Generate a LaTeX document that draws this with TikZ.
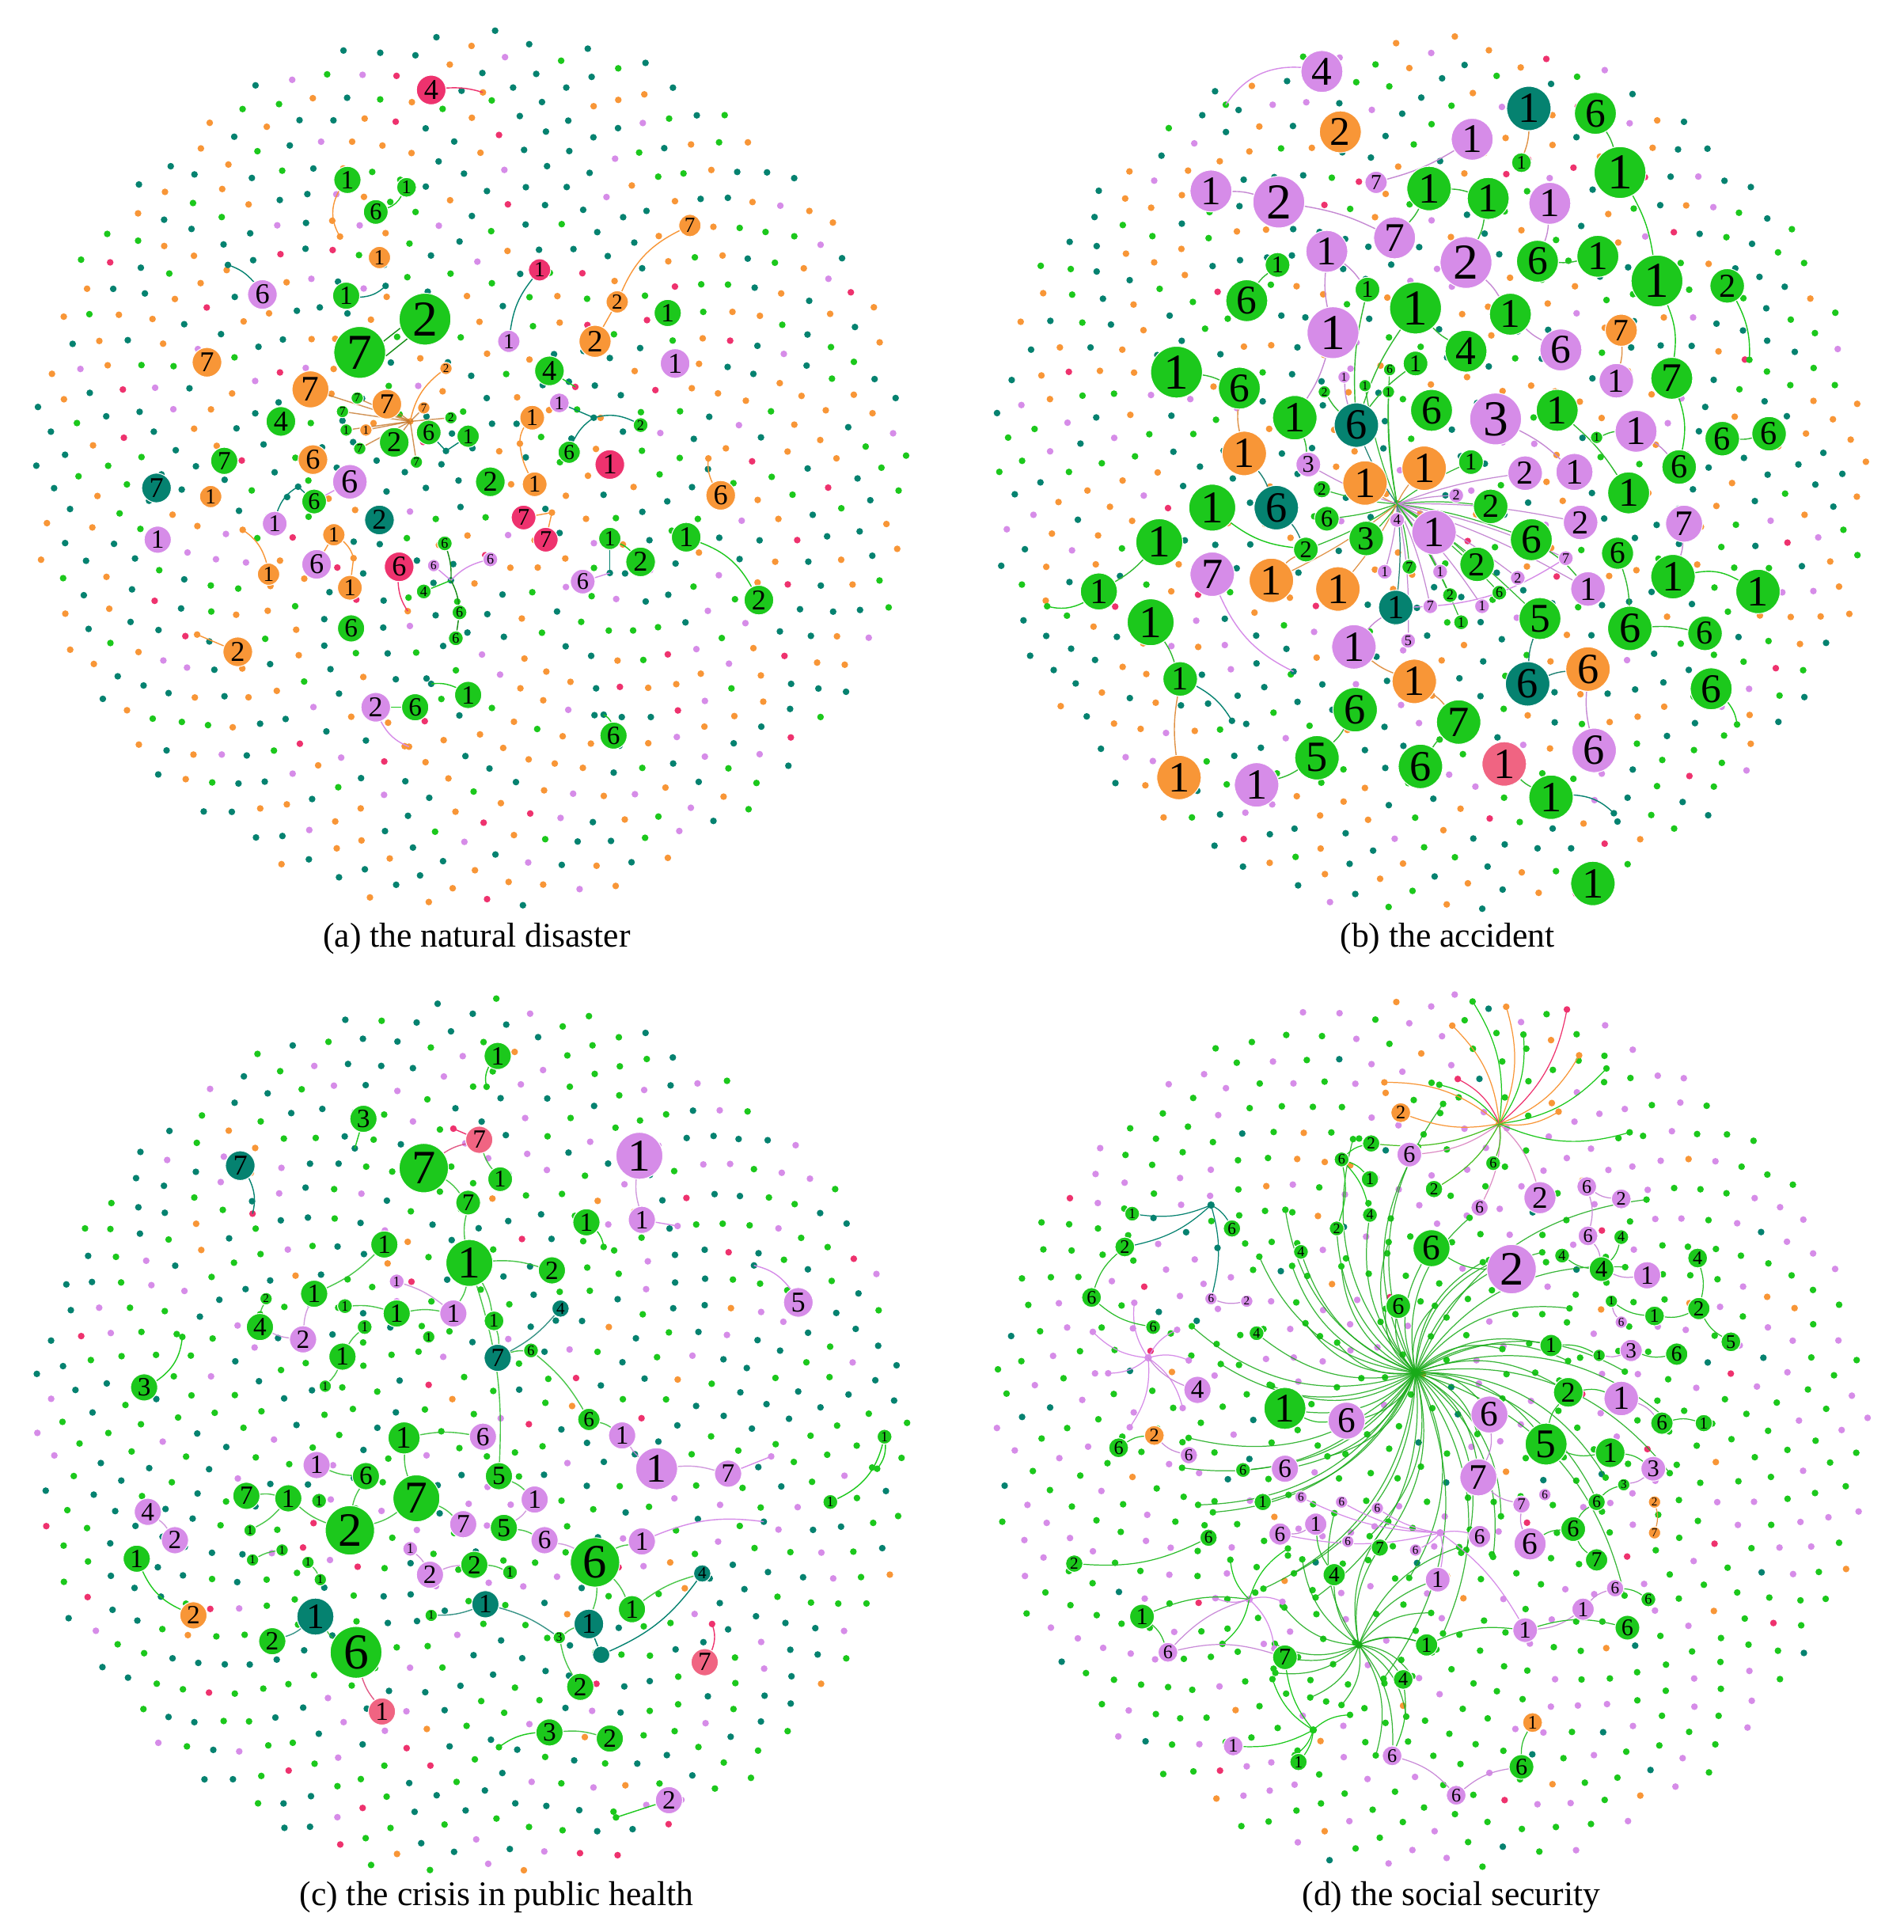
\documentclass[tikz,border=0pt]{standalone}
\usepackage{fontspec}
\setmainfont{Liberation Serif}
\usetikzlibrary{calc}
\definecolor{cgreen}{RGB}{28,200,28}
\definecolor{cteal}{RGB}{5,130,112}
\definecolor{corange}{RGB}{248,150,55}
\definecolor{cviolet}{RGB}{214,140,232}
\definecolor{cpink}{RGB}{238,50,110}
\definecolor{cpinkl}{RGB}{240,100,130}
\pgfdeclarelayer{dots}\pgfdeclarelayer{edges}
\pgfsetlayers{dots,edges,main}
\newcommand\pickA[1]{\ifnum#1<16 cteal\else\ifnum#1<27 corange\else\ifnum#1<35 cgreen\else\ifnum#1<39 cviolet\else cpink\fi\fi\fi\fi}
\newcommand\pickB[1]{\ifnum#1<17 cteal\else\ifnum#1<27 corange\else\ifnum#1<35 cgreen\else\ifnum#1<40 cviolet\else cpink\fi\fi\fi\fi}
\newcommand\pickC[1]{\ifnum#1<17 cteal\else\ifnum#1<31 cgreen\else\ifnum#1<37 cviolet\else\ifnum#1<39 corange\else cpink\fi\fi\fi\fi}
\newcommand\pickD[1]{\ifnum#1<23 cgreen\else\ifnum#1<36 cviolet\else\ifnum#1<38 corange\else\ifnum#1<40 cteal\else cpink\fi\fi\fi\fi}
\newcommand\dotfield[4]{%
  \pgfmathsetseed{#3}%
  \foreach \i in {1,...,800}{%
    \pgfmathsetmacro\drad{12.66*sqrt(\i)+4*rnd-2}%
    \pgfmathsetmacro\dang{360*mod(\i*0.381966,1)}%
    \pgfmathrandominteger{\dk}{1}{40}%
    \edef\dcol{#4{\dk}}%
    \fill[\dcol] (#1,#2) ++(\dang:\drad) circle (2.7);%
  }}
\newcommand\nd[6]{%
  \pgfmathsetmacro\ndsz{0.8858*#4}%
  \pgfmathsetmacro\ndfs{0.86*#4}%
  \node[nd, fill=#5, minimum size=\ndsz pt, font=\fontsize{\ndfs pt}{\ndfs pt}\selectfont] (#1) at (#2,#3) {#6};}
\newcommand\fd[4]{\coordinate (#1) at (#2,#3); \fill[#4] (#1) circle (2.7);}
\begin{document}
\begin{tikzpicture}[x=0.015566cm,y=-0.015566cm,
  nd/.style={circle,inner sep=0pt,text=black,draw=white,line width=0.3pt},
  ed/.style={line width=0.4pt},
  hed/.style={line width=0.35pt,cgreen!85!black,opacity=0.85},
  captext/.style={font=\fontsize{12.4pt}{15pt}\selectfont,inner sep=0pt}]
\useasboundingbox (0,0) rectangle (1545,1568);
\begin{pgfonlayer}{dots}
\fill[white] (0,0) rectangle (1545,1568);
\dotfield{382}{381}{11}{\pickA}
\dotfield{1161}{386}{23}{\pickB}
\dotfield{383}{1166}{37}{\pickC}
\dotfield{1161}{1162}{41}{\pickD}
\end{pgfonlayer}

% ---------- captions
\node[captext] (capa) at (387,762) {(a) the natural disaster};
\node[captext] (capb) at (1175,762) {(b) the accident};
\node[captext] (capc) at (403,1540) {(c) the crisis in public health};
\node[captext] (capd) at (1178,1540) {(d) the social security};

% ---------- panel (a)
\nd{a1}{350}{73}{12}{cpink}{4}
\nd{a2}{282}{146}{11}{cgreen}{1}
\nd{a3}{330}{152}{8}{cgreen}{1}
\nd{a4}{305}{172}{10}{cgreen}{6}
\nd{a5}{308}{209}{9}{corange}{1}
\nd{a6}{560}{183}{9}{corange}{7}
\nd{a7}{438}{219}{9}{cpink}{1}
\nd{a8}{213}{239}{12}{cviolet}{6}
\nd{a9}{281}{240}{11}{cgreen}{1}
\nd{a10}{501}{245}{9}{corange}{2}
\nd{a11}{345}{259}{21}{cgreen}{2}
\nd{a12}{292}{286}{21}{cgreen}{7}
\nd{a13}{413}{277}{9}{cviolet}{1}
\nd{a14}{483}{277}{13}{corange}{2}
\nd{a15}{542}{254}{11}{cgreen}{1}
\nd{a16}{548}{295}{12}{cviolet}{1}
\nd{a17}{168}{294}{12}{corange}{7}
\nd{a18}{252}{316}{15}{corange}{7}
\nd{a19}{446}{301}{12}{cgreen}{4}
\nd{a20}{362}{299}{5}{corange}{2}
\nd{a21}{290}{323}{5}{cgreen}{7}
\nd{a22}{314}{328}{12}{corange}{7}
\nd{a23}{344}{331}{5}{corange}{7}
\nd{a24}{278}{334}{5}{cgreen}{7}
\nd{a25}{366}{339}{5}{cgreen}{2}
\nd{a26}{228}{342}{12}{cgreen}{4}
\nd{a27}{454}{327}{8}{cviolet}{1}
\nd{a28}{432}{339}{10}{corange}{1}
\nd{a29}{520}{345}{6}{cgreen}{2}
\nd{a30}{281}{349}{5}{cgreen}{1}
\nd{a31}{297}{349}{5}{corange}{1}
\nd{a32}{348}{351}{10}{cgreen}{6}
\nd{a33}{380}{354}{9}{cgreen}{1}
\nd{a34}{320}{359}{12}{cgreen}{2}
\nd{a35}{182}{374}{11}{cgreen}{7}
\nd{a36}{254}{373}{12}{corange}{6}
\nd{a37}{462}{367}{9}{cgreen}{6}
\nd{a38}{495}{377}{12}{cpink}{1}
\nd{a39}{292}{364}{5}{cgreen}{7}
\nd{a40}{338}{375}{5}{cgreen}{7}
\nd{a41}{127}{396}{12}{cteal}{7}
\nd{a42}{171}{403}{9}{corange}{1}
\nd{a43}{284}{391}{14}{cviolet}{6}
\nd{a44}{398}{391}{12}{cgreen}{2}
\nd{a45}{434}{393}{10}{corange}{1}
\nd{a46}{585}{402}{12}{corange}{6}
\nd{a47}{255}{407}{10}{cgreen}{6}
\nd{a48}{308}{422}{12}{cteal}{2}
\nd{a49}{223}{425}{10}{cviolet}{1}
\nd{a50}{128}{438}{11}{cviolet}{1}
\nd{a51}{271}{434}{9}{corange}{1}
\nd{a52}{425}{420}{10}{cpink}{7}
\nd{a53}{443}{438}{10}{cpink}{7}
\nd{a54}{495}{437}{9}{cgreen}{1}
\nd{a55}{557}{436}{12}{cgreen}{1}
\nd{a56}{520}{456}{12}{cgreen}{2}
\nd{a57}{257}{458}{12}{cviolet}{6}
\nd{a58}{218}{466}{9}{corange}{1}
\nd{a59}{284}{477}{10}{corange}{1}
\nd{a60}{324}{460}{12}{cpink}{6}
\nd{a61}{361}{441}{6}{cgreen}{6}
\nd{a62}{352}{459}{5}{cviolet}{6}
\nd{a63}{398}{454}{6}{cviolet}{6}
\nd{a64}{344}{480}{6}{cgreen}{4}
\nd{a65}{373}{497}{6}{cgreen}{6}
\nd{a66}{473}{472}{10}{cviolet}{6}
\nd{a67}{285}{510}{11}{cgreen}{6}
\nd{a68}{370}{518}{6}{cgreen}{6}
\nd{a69}{616}{487}{12}{cgreen}{2}
\nd{a70}{193}{529}{12}{corange}{2}
\nd{a71}{380}{564}{11}{cgreen}{1}
\nd{a72}{337}{574}{11}{cgreen}{6}
\nd{a73}{305}{574}{12}{cviolet}{2}
\nd{a74}{498}{597}{11}{cgreen}{6}

% ---------- panel (b)
\nd{b1}{1073}{58}{17}{cviolet}{4}
\nd{b2}{1088}{107}{17}{corange}{2}
\nd{b3}{1241}{88}{18}{cteal}{1}
\nd{b4}{1295}{92}{17}{cgreen}{6}
\nd{b5}{1195}{113}{17}{cviolet}{1}
\nd{b6}{1235}{132}{8}{cgreen}{1}
\nd{b7}{1315}{140}{21}{cgreen}{1}
\nd{b8}{983}{155}{17}{cviolet}{1}
\nd{b9}{1038}{164}{21}{cviolet}{2}
\nd{b10}{1117}{148}{9}{cviolet}{7}
\nd{b11}{1160}{153}{18}{cgreen}{1}
\nd{b12}{1208}{161}{17}{cgreen}{1}
\nd{b13}{1258}{165}{17}{cviolet}{1}
\nd{b14}{1077}{204}{17}{cviolet}{1}
\nd{b15}{1132}{193}{17}{cviolet}{7}
\nd{b16}{1190}{213}{21}{cviolet}{2}
\nd{b17}{1248}{212}{17}{cgreen}{6}
\nd{b18}{1297}{208}{17}{cgreen}{1}
\nd{b19}{1345}{228}{21}{cgreen}{1}
\nd{b20}{1402}{232}{14}{cgreen}{2}
\nd{b21}{1037}{215}{10}{cgreen}{1}
\nd{b22}{1110}{235}{10}{cgreen}{1}
\nd{b23}{1012}{244}{17}{cgreen}{6}
\nd{b24}{1082}{270}{21}{cviolet}{1}
\nd{b25}{1149}{250}{21}{cgreen}{1}
\nd{b26}{1226}{255}{17}{cgreen}{1}
\nd{b27}{1190}{285}{17}{cgreen}{4}
\nd{b28}{1267}{284}{17}{cviolet}{6}
\nd{b29}{1316}{268}{13}{corange}{7}
\nd{b30}{955}{302}{21}{cgreen}{1}
\nd{b31}{1006}{315}{17}{cgreen}{6}
\nd{b32}{1149}{295}{10}{cgreen}{1}
\nd{b33}{1312}{309}{14}{cviolet}{1}
\nd{b34}{1357}{307}{17}{cgreen}{7}
\nd{b35}{1051}{339}{18}{cgreen}{1}
\nd{b36}{1101}{345}{18}{cteal}{6}
\nd{b37}{1162}{333}{17}{cgreen}{6}
\nd{b38}{1214}{340}{21}{cviolet}{3}
\nd{b39}{1264}{333}{17}{cgreen}{1}
\nd{b40}{1328}{350}{17}{cviolet}{1}
\nd{b41}{1398}{356}{14}{cgreen}{6}
\nd{b42}{1436}{352}{14}{cgreen}{6}
\nd{b43}{1010}{368}{18}{corange}{1}
\nd{b44}{1062}{377}{10}{cviolet}{3}
\nd{b45}{1108}{392}{18}{corange}{1}
\nd{b46}{1156}{380}{18}{corange}{1}
\nd{b47}{1194}{375}{10}{cgreen}{1}
\nd{b48}{1238}{384}{14}{cviolet}{2}
\nd{b49}{1278}{383}{15}{cviolet}{1}
\nd{b50}{1363}{379}{14}{cgreen}{6}
\nd{b51}{984}{412}{19}{cgreen}{1}
\nd{b52}{1036}{412}{18}{cteal}{6}
\nd{b53}{1210}{411}{14}{cgreen}{2}
\nd{b54}{1322}{400}{17}{cgreen}{1}
\nd{b55}{1283}{424}{14}{cviolet}{2}
\nd{b56}{1367}{425}{15}{cviolet}{7}
\nd{b57}{941}{440}{19}{cgreen}{1}
\nd{b58}{1077}{421}{10}{cgreen}{6}
\nd{b59}{1109}{437}{14}{cgreen}{3}
\nd{b60}{1164}{432}{18}{cviolet}{1}
\nd{b61}{1243}{438}{17}{cgreen}{6}
\nd{b62}{1060}{446}{10}{cgreen}{2}
\nd{b63}{1313}{449}{13}{cgreen}{6}
\nd{b64}{984}{466}{18}{cviolet}{7}
\nd{b65}{1032}{471}{18}{corange}{1}
\nd{b66}{1086}{478}{18}{corange}{1}
\nd{b67}{1199}{458}{14}{cgreen}{2}
\nd{b68}{1358}{468}{18}{cgreen}{1}
\nd{b69}{1289}{478}{14}{cviolet}{1}
\nd{b70}{1427}{480}{18}{cgreen}{1}
\nd{b71}{892}{480}{15}{cgreen}{1}
\nd{b72}{1133}{493}{14}{cteal}{1}
\nd{b73}{934}{505}{19}{cgreen}{1}
\nd{b74}{1250}{502}{17}{cgreen}{5}
\nd{b75}{1323}{510}{18}{cgreen}{6}
\nd{b76}{1384}{514}{14}{cgreen}{6}
\nd{b77}{1099}{525}{18}{cviolet}{1}
\nd{b78}{958}{551}{14}{cgreen}{1}
\nd{b79}{1148}{553}{18}{corange}{1}
\nd{b80}{1240}{555}{18}{cteal}{6}
\nd{b81}{1289}{543}{18}{corange}{6}
\nd{b82}{1389}{559}{17}{cgreen}{6}
\nd{b83}{1100}{576}{18}{cgreen}{6}
\nd{b84}{1184}{586}{18}{cgreen}{7}
\nd{b85}{1069}{615}{18}{cgreen}{5}
\nd{b86}{1153}{622}{18}{cgreen}{6}
\nd{b87}{1221}{620}{18}{cpinkl}{1}
\nd{b88}{1294}{609}{18}{cviolet}{6}
\nd{b89}{957}{631}{18}{corange}{1}
\nd{b90}{1020}{637}{18}{cviolet}{1}
\nd{b91}{1259}{647}{18}{cgreen}{1}
\nd{b92}{1293}{717}{18}{cgreen}{1}
\nd{b93}{1073}{397}{7}{cgreen}{2}
\nd{b94}{1134}{422}{6}{cviolet}{4}
\nd{b95}{1182}{402}{6}{cviolet}{2}
\nd{b96}{1271}{453}{6}{cviolet}{7}
\nd{b97}{1124}{464}{6}{cviolet}{1}
\nd{b98}{1144}{460}{6}{cgreen}{7}
\nd{b99}{1169}{464}{6}{cviolet}{1}
\nd{b100}{1177}{483}{6}{cgreen}{2}
\nd{b101}{1217}{481}{6}{cgreen}{6}
\nd{b102}{1232}{469}{6}{cviolet}{2}
\nd{b103}{1161}{492}{6}{cviolet}{7}
\nd{b104}{1203}{492}{6}{cviolet}{1}
\nd{b105}{1186}{505}{6}{cgreen}{1}
\nd{b106}{1143}{520}{6}{cviolet}{5}
\nd{b107}{1091}{306}{5}{cviolet}{1}
\nd{b108}{1108}{313}{5}{cgreen}{1}
\nd{b109}{1127}{318}{5}{cgreen}{1}
\nd{b110}{1075}{318}{5}{cgreen}{2}
\nd{b111}{1128}{300}{5}{cgreen}{6}
\nd{b112}{1296}{355}{5}{cgreen}{1}

% ---------- panel (c)
\nd{c1}{404}{857}{11}{cgreen}{1}
\nd{c2}{295}{908}{11}{cgreen}{3}
\nd{c3}{389}{925}{11}{cpinkl}{7}
\nd{c4}{519}{938}{19}{cviolet}{1}
\nd{c5}{195}{946}{12}{cteal}{7}
\nd{c6}{344}{948}{20}{cgreen}{7}
\nd{c7}{406}{957}{10}{cgreen}{1}
\nd{c8}{380}{976}{10}{cgreen}{7}
\nd{c9}{521}{990}{11}{cviolet}{1}
\nd{c10}{476}{992}{11}{cgreen}{1}
\nd{c11}{312}{1010}{11}{cgreen}{1}
\nd{c12}{381}{1025}{19}{cgreen}{1}
\nd{c13}{448}{1031}{11}{cgreen}{2}
\nd{c14}{322}{1040}{6}{cviolet}{1}
\nd{c15}{255}{1050}{11}{cgreen}{1}
\nd{c16}{648}{1057}{12}{cviolet}{5}
\nd{c17}{455}{1062}{7}{cteal}{4}
\nd{c18}{216}{1054}{5}{cgreen}{2}
\nd{c19}{280}{1060}{6}{cgreen}{1}
\nd{c20}{211}{1077}{11}{cgreen}{4}
\nd{c21}{296}{1077}{6}{cgreen}{1}
\nd{c22}{322}{1066}{11}{cgreen}{1}
\nd{c23}{368}{1066}{11}{cviolet}{1}
\nd{c24}{401}{1072}{8}{cgreen}{1}
\nd{c25}{246}{1087}{11}{cviolet}{2}
\nd{c26}{278}{1101}{11}{cgreen}{1}
\nd{c27}{404}{1102}{11}{cteal}{7}
\nd{c28}{431}{1096}{6}{cgreen}{6}
\nd{c29}{348}{1085}{5}{cgreen}{1}
\nd{c30}{117}{1126}{11}{cgreen}{3}
\nd{c31}{264}{1125}{5}{cgreen}{1}
\nd{c32}{478}{1152}{9}{cgreen}{6}
\nd{c33}{505}{1165}{11}{cviolet}{1}
\nd{c34}{328}{1167}{13}{cgreen}{1}
\nd{c35}{392}{1166}{11}{cviolet}{6}
\nd{c36}{533}{1192}{17}{cviolet}{1}
\nd{c37}{591}{1196}{11}{cviolet}{7}
\nd{c38}{718}{1166}{6}{cgreen}{1}
\nd{c39}{257}{1189}{11}{cviolet}{1}
\nd{c40}{297}{1198}{11}{cgreen}{6}
\nd{c41}{405}{1198}{11}{cgreen}{5}
\nd{c42}{338}{1216}{19}{cgreen}{7}
\nd{c43}{200}{1214}{11}{cgreen}{7}
\nd{c44}{234}{1216}{11}{cgreen}{1}
\nd{c45}{259}{1218}{6}{cgreen}{1}
\nd{c46}{434}{1217}{11}{cviolet}{1}
\nd{c47}{674}{1219}{6}{cgreen}{1}
\nd{c48}{120}{1227}{11}{cviolet}{4}
\nd{c49}{284}{1242}{20}{cgreen}{2}
\nd{c50}{376}{1237}{11}{cviolet}{7}
\nd{c51}{409}{1240}{11}{cgreen}{5}
\nd{c52}{442}{1250}{11}{cviolet}{6}
\nd{c53}{483}{1268}{20}{cgreen}{6}
\nd{c54}{521}{1251}{11}{cviolet}{1}
\nd{c55}{142}{1250}{11}{cviolet}{2}
\nd{c56}{203}{1242}{5}{cgreen}{1}
\nd{c57}{229}{1258}{5}{cgreen}{1}
\nd{c58}{205}{1266}{5}{cgreen}{1}
\nd{c59}{250}{1268}{5}{cgreen}{1}
\nd{c60}{333}{1257}{6}{cviolet}{1}
\nd{c61}{111}{1265}{11}{cgreen}{1}
\nd{c62}{349}{1278}{11}{cviolet}{2}
\nd{c63}{385}{1270}{11}{cgreen}{2}
\nd{c64}{414}{1276}{6}{cgreen}{1}
\nd{c65}{570}{1277}{7}{cteal}{4}
\nd{c66}{260}{1282}{5}{cgreen}{1}
\nd{c67}{157}{1311}{11}{corange}{2}
\nd{c68}{256}{1312}{15}{cteal}{1}
\nd{c69}{394}{1302}{11}{cteal}{1}
\nd{c70}{478}{1318}{12}{cteal}{1}
\nd{c71}{513}{1306}{11}{cgreen}{1}
\nd{c72}{289}{1341}{21}{cgreen}{6}
\nd{c73}{221}{1332}{11}{cgreen}{2}
\nd{c74}{350}{1311}{5}{cgreen}{1}
\nd{c75}{454}{1329}{5}{cgreen}{3}
\nd{c76}{488}{1343}{7}{cteal}{}
\nd{c77}{572}{1349}{11}{cpinkl}{7}
\nd{c78}{471}{1369}{11}{cgreen}{2}
\nd{c79}{310}{1389}{11}{cpinkl}{1}
\nd{c80}{446}{1406}{11}{cgreen}{3}
\nd{c81}{495}{1411}{11}{cgreen}{2}
\nd{c82}{543}{1461}{11}{cviolet}{2}

% ---------- panel (d)
\nd{d1}{1137}{903}{8}{corange}{2}
\nd{d2}{1144}{937}{10}{cviolet}{6}
\nd{d3}{1113}{928}{7}{cgreen}{2}
\nd{d4}{1112}{957}{7}{cgreen}{1}
\nd{d5}{1164}{965}{7}{cgreen}{2}
\nd{d6}{1201}{980}{7}{cviolet}{6}
\nd{d7}{1250}{972}{13}{cviolet}{2}
\nd{d8}{1288}{963}{8}{cviolet}{6}
\nd{d9}{1316}{973}{8}{cviolet}{2}
\nd{d10}{1000}{997}{7}{cgreen}{6}
\nd{d11}{913}{1012}{8}{cgreen}{2}
\nd{d12}{1085}{997}{6}{cgreen}{2}
\nd{d13}{886}{1053}{8}{cgreen}{6}
\nd{d14}{1162}{1013}{15}{cgreen}{6}
\nd{d15}{1227}{1030}{20}{cviolet}{2}
\nd{d16}{1135}{1060}{10}{cgreen}{6}
\nd{d17}{1289}{1003}{8}{cviolet}{6}
\nd{d18}{1316}{1004}{6}{cgreen}{4}
\nd{d19}{1268}{1019}{6}{cgreen}{4}
\nd{d20}{1056}{1016}{6}{cgreen}{4}
\nd{d21}{1300}{1030}{10}{cgreen}{4}
\nd{d22}{1337}{1035}{11}{cviolet}{1}
\nd{d23}{1378}{1021}{8}{cgreen}{4}
\nd{d24}{1379}{1062}{9}{cgreen}{2}
\nd{d25}{1343}{1068}{8}{cgreen}{1}
\nd{d26}{1405}{1089}{8}{cgreen}{5}
\nd{d27}{1308}{1056}{5}{cgreen}{1}
\nd{d28}{1316}{1073}{5}{cviolet}{6}
\nd{d29}{1259}{1092}{9}{cgreen}{1}
\nd{d30}{1324}{1096}{9}{cviolet}{3}
\nd{d31}{1298}{1100}{5}{cgreen}{1}
\nd{d32}{936}{1077}{6}{cgreen}{6}
\nd{d33}{1020}{1082}{6}{cgreen}{4}
\nd{d34}{972}{1128}{11}{cviolet}{4}
\nd{d35}{1361}{1099}{9}{cgreen}{6}
\nd{d36}{1043}{1143}{17}{cgreen}{1}
\nd{d37}{1093}{1153}{15}{cviolet}{6}
\nd{d38}{1209}{1148}{15}{cviolet}{6}
\nd{d39}{1255}{1172}{17}{cgreen}{5}
\nd{d40}{1307}{1179}{12}{cgreen}{1}
\nd{d41}{1200}{1199}{15}{cviolet}{7}
\nd{d42}{1273}{1130}{12}{cgreen}{2}
\nd{d43}{1316}{1135}{14}{cviolet}{1}
\nd{d44}{1349}{1155}{9}{cgreen}{6}
\nd{d45}{1383}{1155}{7}{cgreen}{1}
\nd{d46}{937}{1165}{8}{corange}{2}
\nd{d47}{965}{1181}{7}{cviolet}{6}
\nd{d48}{908}{1175}{8}{cgreen}{6}
\nd{d49}{1043}{1192}{11}{cviolet}{6}
\nd{d50}{1342}{1192}{10}{cviolet}{3}
\nd{d51}{1068}{1237}{9}{cviolet}{1}
\nd{d52}{1039}{1245}{9}{cviolet}{6}
\nd{d53}{1120}{1256}{7}{cgreen}{7}
\nd{d54}{1201}{1247}{9}{cviolet}{6}
\nd{d55}{1242}{1253}{13}{cviolet}{6}
\nd{d56}{1277}{1241}{10}{cgreen}{6}
\nd{d57}{1296}{1266}{9}{cgreen}{7}
\nd{d58}{1167}{1282}{10}{cviolet}{1}
\nd{d59}{1083}{1278}{9}{cgreen}{4}
\nd{d60}{1285}{1306}{9}{cviolet}{1}
\nd{d61}{1296}{1219}{7}{cgreen}{6}
\nd{d62}{1318}{1205}{5}{cgreen}{3}
\nd{d63}{1343}{1219}{5}{corange}{2}
\nd{d64}{1343}{1244}{5}{corange}{7}
\nd{d65}{1235}{1221}{7}{cviolet}{7}
\nd{d66}{1254}{1213}{5}{cviolet}{6}
\nd{d67}{1089}{1219}{5}{cviolet}{6}
\nd{d68}{1118}{1224}{5}{cviolet}{6}
\nd{d69}{1056}{1215}{5}{cviolet}{6}
\nd{d70}{1094}{1251}{5}{cviolet}{6}
\nd{d71}{1149}{1258}{5}{cviolet}{6}
\nd{d72}{1311}{1289}{7}{cviolet}{6}
\nd{d73}{1338}{1298}{6}{cgreen}{6}
\nd{d74}{872}{1269}{7}{cgreen}{2}
\nd{d75}{981}{1248}{7}{cgreen}{6}
\nd{d76}{927}{1312}{10}{cgreen}{1}
\nd{d77}{948}{1341}{8}{cviolet}{6}
\nd{d78}{1043}{1345}{10}{cgreen}{7}
\nd{d79}{1158}{1335}{9}{cgreen}{1}
\nd{d80}{1139}{1363}{8}{cgreen}{4}
\nd{d81}{1238}{1323}{10}{cviolet}{1}
\nd{d82}{1321}{1321}{10}{cgreen}{6}
\nd{d83}{1001}{1417}{8}{cviolet}{1}
\nd{d84}{1054}{1430}{7}{cgreen}{1}
\nd{d85}{1130}{1425}{8}{cviolet}{6}
\nd{d86}{1235}{1434}{10}{cgreen}{6}
\nd{d87}{1182}{1457}{8}{cviolet}{6}
\nd{d88}{1244}{1398}{8}{corange}{1}
\nd{d89}{1009}{1193}{6}{cgreen}{6}
\nd{d90}{1025}{1219}{7}{cgreen}{1}
\nd{d91}{1089}{941}{6}{cgreen}{6}
\nd{d92}{1212}{944}{6}{cgreen}{6}
\nd{d93}{983}{1054}{5}{cviolet}{6}
\nd{d94}{1012}{1056}{5}{cviolet}{2}
\nd{d95}{919}{985}{6}{cgreen}{1}
\nd{d96}{1112}{986}{6}{cgreen}{4}

% ================= edges =================
\begin{pgfonlayer}{edges}
% ---- (a)
\fd{fa1}{313}{232}{cteal}
\fd{fa2}{276}{192}{corange}
\fd{fa3}{333}{342}{corange}
\fd{fa4}{362}{366}{cteal}
\fd{fa5}{482}{339}{cteal}
\fd{fa6}{422}{360}{corange}
\fd{fa7}{242}{395}{cteal}
\fd{fa8}{287}{453}{corange}
\fd{fa9}{197}{430}{corange}
\fd{fa10}{331}{496}{corange}
\fd{fa11}{366}{471}{cteal}
\fd{fa12}{448}{416}{corange}
\fd{fa13}{495}{465}{cteal}
\fd{fa14}{575}{372}{corange}
\fd{fa15}{160}{515}{corange}
\fd{fa16}{392}{75}{corange}
\fd{fa17}{185}{215}{cteal}
\fd{fa18}{490}{580}{cteal}
\fd{fa19}{350}{555}{cteal}
\fd{fa20}{332}{606}{corange}
\fd{fa21}{467}{314}{cpink}
\draw[ed,cgreen!70!black] (a12.25) -- (a11.200) (a12.-8) -- (a11.228);
\draw[ed,cteal] (a9) to[bend right=20] (fa1);
\draw[ed,corange] (a2) to[bend right=30] (fa2);
\draw[ed,cteal] (a7) to[bend right=15] (a13);
\draw[ed,corange] (a10) -- (a14);
\draw[ed,corange] (a6) to[bend right=20] (a10);
\foreach \n in {a18,a22,a23,a31,a30,a24,a21,a34,a39,a25,a40}
  \draw[ed,corange!80!black,opacity=0.8] (fa3) -- (\n);
\draw[ed,corange] (fa3) to[bend left=20] (a20);
\draw[ed,cteal] (a32) -- (fa4) -- (a33);
\draw[ed,cteal] (a27) -- (fa5);
\draw[ed,cteal] (fa5) to[bend left=20] (a29);
\draw[ed,cteal] (fa5) to[bend right=15] (a37);
\draw[ed,corange] (a28) to[bend right=15] (fa6);
\draw[ed,corange] (fa6) to[bend right=10] (a45);
\draw[ed,cviolet] (a43) -- (a47);
\draw[ed,cteal] (a49) to[bend left=20] (fa7);
\draw[ed,cteal] (fa7) -- (a47);
\draw[ed,corange] (a51) -- (a57);
\draw[ed,corange] (a51) to[bend left=15] (fa8);
\draw[ed,corange] (fa8) -- (a59);
\draw[ed,corange] (a58) to[bend right=20] (fa9);
\draw[ed,cpink] (a60) to[bend right=15] (fa10);
\draw[ed,cgreen!70!black] (a61) to[bend left=10] (fa11);
\draw[ed,cgreen!70!black] (fa11) to[bend left=10] (a65);
\draw[ed,cgreen!70!black] (a65) -- (a68);
\draw[ed,cviolet] (a62) -- (fa11);
\draw[ed,cviolet] (a63) to[bend right=15] (fa11);
\draw[ed,cgreen] (a64) -- (fa11);
\draw[ed,corange] (a52) -- (fa12) -- (a53);
\draw[ed,cviolet] (a66) -- (fa13);
\draw[ed,cteal] (fa13) -- (a54);
\draw[ed,cgreen] (a54) to[bend left=10] (a56);
\draw[ed,cgreen] (a55) to[bend left=20] (a69);
\draw[ed,corange] (a46) to[bend left=15] (fa14);
\draw[ed,corange] (a70) -- (fa15);
\draw[ed,cpink] (a1) to[bend left=10] (fa16);
\draw[ed,cteal] (a8) to[bend right=15] (fa17);
\draw[ed,cgreen] (a74) to[bend right=15] (fa18);
\draw[ed,cgreen] (a71) to[bend right=15] (fa19);
\draw[ed,cviolet] (a73) to[bend right=20] (fa20);
\draw[ed,cgreen] (a19) -- (fa21);
\draw[ed,cgreen] (a3) to[bend left=20] (a4);
\draw[ed,cgreen] (a73) -- (a72);

% ---- (b)
\coordinate (hb) at (1134,409);
\fill[cgreen!70!black] (hb) circle (3);
\foreach \n/\cl in {b45/corange,b46/corange,b36/cteal,b60/cviolet,b94/cviolet,b97/cviolet,b98/cgreen,b99/cviolet,b100/cgreen,b101/cgreen,b102/cviolet,b103/cviolet,b104/cviolet,b105/cgreen,b106/cviolet,b59/cgreen,b58/cgreen,b62/cgreen,b53/cgreen,b95/cviolet,b72/cteal,b67/cgreen,b61/cgreen,b65/corange,b66/corange,b55/cviolet,b69/cviolet,b96/cviolet,b93/cgreen,b47/cgreen,b48/cviolet,b44/cviolet,b108/cgreen,b109/cgreen,b111/cgreen,b74/cgreen}
  \draw[ed,\cl!80!gray,line width=0.35pt] (hb) to[bend left=6] (\n);
\fd{fb1}{995}{85}{cgreen}
\fd{fb2}{1050}{545}{cteal}
\fd{fb3}{850}{492}{cgreen}
\fd{fb4}{1420}{292}{cgreen}
\fd{fb5}{1410}{588}{cgreen}
\fd{fb6}{1310}{660}{cteal}
\fd{fb7}{1000}{585}{cteal}
\foreach \u/\v/\cl in {b36/b22/cgreen,b36/b25/cgreen,b36/b32/cgreen,b36/b107/cviolet,b36/b110/cgreen,b35/b44/cgreen,b43/b52/cteal,b43/b31/corange,b57/b71/cgreen,b73/b78/cgreen,b80/b74/cteal,b80/b81/cteal,b79/b84/corange,b79/b77/corange,b77/b72/cviolet,b83/b85/cgreen,b86/b84/cgreen,b3/b6/corange,b4/b7/cgreen,b5/b10/cviolet,b23/b21/cgreen,b24/b14/cviolet,b30/b31/cgreen,b8/b9/cviolet,b9/b15/cviolet,b11/b12/cgreen,b12/b16/cgreen,b13/b17/cviolet,b16/b26/cviolet,b18/b17/cgreen,b29/b33/corange,b28/b26/cviolet,b27/b25/cgreen,b38/b49/cviolet,b39/b54/cgreen,b40/b50/cviolet,b56/b68/cviolet,b63/b75/cgreen,b75/b76/cgreen,b42/b41/cgreen,b24/b35/cviolet,b14/b22/cviolet,b11/b15/cgreen,b52/b62/cteal,b65/b62/corange,b88/b81/cviolet,b91/b87/cgreen,b85/b90/cgreen,b89/b78/corange,b61/b69/cgreen,b112/b40/cgreen}
  \draw[ed,\cl!80!gray] (\u) to[bend left=8] (\v);
\draw[ed,cviolet] (b1) to[bend right=30] (fb1);
\draw[ed,cviolet] (b64) to[bend right=20] (fb2);
\draw[ed,cgreen] (b71) to[bend left=20] (fb3);
\draw[ed,cgreen] (b20) to[bend left=15] (fb4);
\draw[ed,cgreen] (b7) to[bend left=10] (b19);
\draw[ed,cgreen] (b19) to[bend left=15] (b34);
\draw[ed,cgreen] (b34) to[bend left=15] (b50);
\draw[ed,cgreen] (b82) to[bend left=15] (fb5);
\draw[ed,cteal] (b91) to[bend left=20] (fb6);
\draw[ed,cteal] (b78) to[bend left=15] (fb7);
\draw[ed,cgreen] (b68) to[bend left=20] (b70);
\draw[ed,cviolet] (b72) to[bend right=15] (b96);
\draw[ed,cgreen] (b51) to[bend right=15] (b62);

% ---- (c)
\fd{fc1}{395}{882}{cgreen}
\fd{fc2}{368}{916}{cpink}
\fd{fc3}{205}{985}{cpink}
\fd{fc4}{550}{995}{cviolet}
\fd{fc5}{490}{1012}{cgreen}
\fd{fc6}{612}{1027}{cteal}
\fd{fc7}{148}{1085}{cgreen}
\fd{fc8}{712}{1192}{cgreen}
\fd{fc9}{626}{1182}{cviolet}
\fd{fc11}{578}{1318}{cpink}
\fd{fc12}{405}{1418}{cgreen}
\fd{fc13}{500}{1475}{cgreen}
\fd{fc14}{288}{932}{cteal}
\fd{fc15}{620}{1235}{cteal}
\draw[ed,cgreen] (c1) to[bend right=20] (fc1);
\draw[ed,cpink] (c3) -- (fc2);
\draw[ed,cteal] (c5) to[bend left=20] (fc3);
\draw[ed,cviolet] (c9) -- (fc4);
\draw[ed,cgreen] (c10) to[bend left=15] (fc5);
\draw[ed,cviolet] (c16) to[bend right=20] (fc6);
\draw[ed,cgreen] (c30) to[bend right=25] (fc7);
\draw[ed,cgreen] (c38) to[bend left=20] (fc8);
\draw[ed,cgreen] (c47) to[bend right=25] (c38);
\draw[ed,cviolet] (c37) -- (fc9);
\draw[ed,cgreen] (c61) to[bend right=20] (c67);
\draw[ed,cteal] (c65) to[bend left=15] (c76);
\draw[ed,cteal] (c76) -- (c70);
\draw[ed,cpink] (c77) to[bend right=20] (fc11);
\draw[ed,cgreen] (c80) to[bend right=15] (fc12);
\draw[ed,cgreen] (c82) -- (fc13);
\draw[ed,cgreen] (c2) -- (fc14);
\draw[ed,cviolet] (c54) to[bend left=15] (fc15);
\foreach \u/\v/\cl in {c12/c8/cgreen,c12/c13/cgreen,c17/c27/cteal,c27/c28/cgreen,c28/c32/cgreen,c32/c33/cgreen,c48/c55/cviolet,c79/c72/cpink,c72/c68/cgreen,c68/c73/cteal,c53/c70/cgreen,c53/c71/cgreen,c71/c65/cgreen,c42/c49/cgreen,c42/c34/cgreen,c34/c35/cgreen,c42/c50/cgreen,c49/c40/cgreen,c49/c44/cgreen,c40/c39/cgreen,c43/c44/cgreen,c44/c56/cgreen,c25/c20/cviolet,c25/c15/cviolet,c26/c21/cgreen,c22/c23/cgreen,c12/c23/cgreen,c12/c24/cgreen,c24/c27/cgreen,c11/c15/cgreen,c6/c8/cgreen,c6/c3/cpink,c7/c3/cgreen,c36/c33/cviolet,c36/c37/cviolet,c46/c51/cviolet,c51/c52/cgreen,c52/c53/cviolet,c53/c54/cgreen,c62/c63/cviolet,c63/c64/cgreen,c69/c74/cteal,c69/c75/cteal,c75/c70/cgreen,c80/c81/cgreen,c78/c75/cgreen,c26/c31/cgreen,c19/c22/cgreen,c14/c23/cviolet,c20/c18/cgreen,c58/c57/cgreen,c59/c66/cgreen,c60/c62/cviolet,c41/c46/cgreen,c12/c41/cgreen,c9/c4/cviolet}
  \draw[ed,\cl!85!gray,opacity=0.85] (\u) to[bend left=10] (\v);

% ---- (d)
\coordinate (hd1) at (1149,1114);
\coordinate (hd2) at (1103,1335);
\coordinate (hd3) at (1217,912);
\coordinate (hd4) at (1169,1244);
\coordinate (hd5) at (932,1102);
\coordinate (hd6) at (983,978);
\coordinate (hd7) at (1014,1298);
\coordinate (hd8) at (1066,1404);
\fill[cgreen] (hd1) circle (3.5);
\fill[cgreen] (hd2) circle (3);
\fill[corange] (hd3) circle (3);
\fill[cviolet] (hd4) circle (3);
\fill[cviolet] (hd5) circle (3);
\fill[cteal] (hd6) circle (3);
\fill[cviolet] (hd7) circle (3);
\fill[cgreen] (hd8) circle (3);
\foreach \n in {d14,d16,d36,d37,d38,d41,d39,d29,d42,d33,d12,d20,d49,d53,d90,d89,d96}
  \draw[hed] (hd1) to[bend left=25] (\n);
\pgfmathsetseed{321}
\foreach \j in {1,...,46}{%
  \pgfmathsetmacro\hang{\j*7.8+6*rnd}%
  \pgfmathsetmacro\hlen{55+200*rnd}%
  \path (hd1) ++(\hang:\hlen) coordinate (dhA\j);
  \draw[hed] (hd1) to[bend left=30] (dhA\j);
  \fill[cgreen] (dhA\j) circle (2.7);
}
\foreach \n in {d78,d79,d80,d59,d53,d58,d85}
  \draw[hed] (hd2) to[bend left=20] (\n);
\foreach \j in {1,...,14}{%
  \pgfmathsetmacro\hang{\j*25.7+8*rnd}%
  \pgfmathsetmacro\hlen{40+100*rnd}%
  \path (hd2) ++(\hang:\hlen) coordinate (dhB\j);
  \draw[hed] (hd2) to[bend left=25] (dhB\j);
  \fill[cgreen] (dhB\j) circle (2.7);
}
\foreach \n/\cl in {d1/corange,d2/cviolet,d6/cviolet,d7/cviolet,d5/cgreen,d3/cgreen,d92/cgreen}
  \draw[ed,\cl!80!corange,line width=0.35pt] (hd3) to[bend left=15] (\n);
\foreach \j/\cl in {1/corange,2/cgreen,3/cpink,4/corange,5/cgreen,6/corange,7/cgreen,8/cpink,9/corange,10/cgreen,11/corange,12/cgreen}{%
  \pgfmathsetmacro\hang{180+\j*15+6*rnd}%
  \pgfmathsetmacro\hlen{40+70*rnd}%
  \path (hd3) ++(\hang:\hlen) coordinate (dhC\j);
  \draw[ed,\cl,line width=0.35pt] (hd3) to[bend right=20] (dhC\j);
  \fill[\cl] (dhC\j) circle (2.7);
}
\foreach \n in {d58,d54,d71,d68,d81,d67,d69,d52}
  \draw[ed,cviolet,line width=0.35pt] (hd4) to[bend left=12] (\n);
\foreach \j in {1,...,7}{%
  \pgfmathsetmacro\hang{\j*51+10*rnd}%
  \pgfmathsetmacro\hlen{30+40*rnd}%
  \path (hd5) ++(\hang:\hlen) coordinate (dhD\j);
  \draw[ed,cviolet,line width=0.35pt] (hd5) to[bend left=20] (dhD\j);
  \fill[cviolet] (dhD\j) circle (2.7);
}
\foreach \j/\cl in {1/cviolet,2/cgreen,3/cviolet,4/cgreen,5/cgreen,6/cviolet}{%
  \pgfmathsetmacro\hang{\j*60+10*rnd}%
  \pgfmathsetmacro\hlen{25+35*rnd}%
  \path (hd7) ++(\hang:\hlen) coordinate (dhE\j);
  \draw[ed,\cl,line width=0.35pt] (hd7) to[bend left=20] (dhE\j);
  \fill[\cl] (dhE\j) circle (2.7);
}
\foreach \n in {d83,d84,d78}
  \draw[ed,cgreen,line width=0.35pt] (hd8) to[bend left=15] (\n);
\foreach \j in {1,...,3}{%
  \pgfmathsetmacro\hang{\j*110+20*rnd}%
  \pgfmathsetmacro\hlen{25+30*rnd}%
  \path (hd8) ++(\hang:\hlen) coordinate (dhF\j);
  \draw[ed,cgreen,line width=0.35pt] (hd8) to[bend left=20] (dhF\j);
  \fill[cgreen] (dhF\j) circle (2.7);
}
\foreach \n in {d10,d11,d93,d95}
  \draw[ed,cteal,line width=0.35pt] (hd6) to[bend left=15] (\n);
\foreach \n in {d3,d4,d12,d96}
  \draw[ed,cgreen,line width=0.35pt] (d91) to[bend left=15] (\n);
\foreach \u/\v/\cl in {d47/d46/cviolet,d34/hd5/cviolet,d55/d65/cviolet,d65/d41/cviolet,d55/d56/cgreen,d56/d61/cgreen,d61/d62/cgreen,d57/d56/cgreen,d60/d81/cviolet,d81/d82/cgreen,d60/d72/cviolet,d72/d73/cgreen,d40/d39/cgreen,d39/d42/cgreen,d42/d43/cgreen,d43/d44/cviolet,d44/d45/cgreen,d30/d31/cviolet,d29/d31/cgreen,d21/d19/cgreen,d22/d21/cviolet,d23/d24/cgreen,d24/d25/cgreen,d25/d27/cgreen,d26/d24/cgreen,d9/d8/cviolet,d8/d17/cviolet,d15/d14/cgreen,d17/d21/cviolet,d13/d11/cgreen,d48/d46/cgreen,d76/d77/cgreen,d77/d78/cviolet,d85/d87/cviolet,d86/d88/cgreen,d87/d86/cviolet,d40/d50/cgreen,d50/d62/cviolet,d38/d41/cviolet,d37/d36/cgreen,d63/d64/corange,d35/d30/cgreen,d28/d27/cviolet,d51/d52/cviolet,d75/d74/cgreen,d32/d13/cgreen,d94/d93/cviolet,d59/d51/cgreen,d79/d81/cgreen,d80/d85/cgreen,d18/d21/cgreen,d76/hd7/cgreen,d77/hd7/cviolet}
  \draw[ed,\cl!85!gray,line width=0.35pt] (\u) to[bend left=15] (\v);
\end{pgfonlayer}
\end{tikzpicture}
\end{document}
